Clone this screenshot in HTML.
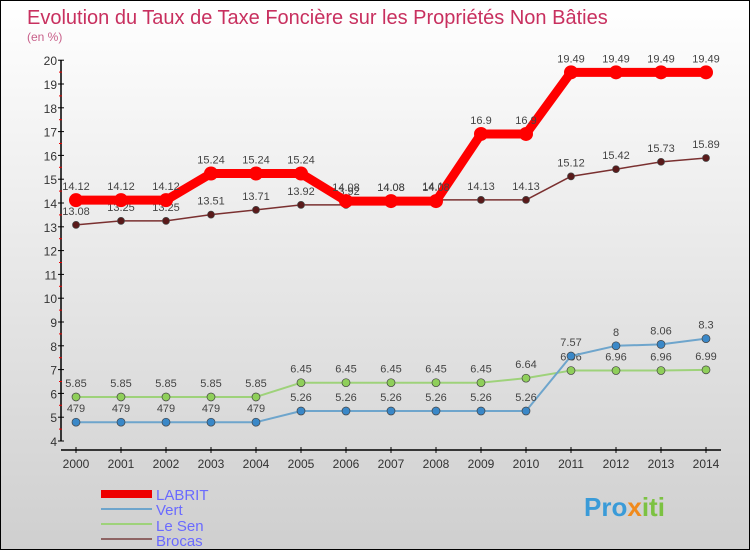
<!DOCTYPE html>
<html><head><meta charset="utf-8"><style>
body{margin:0}
#c{width:748px;height:548px;border:1px solid #000;background:linear-gradient(#ffffff,#cfcfcf);position:relative;font-family:"Liberation Sans",sans-serif;overflow:hidden}
</style></head><body>
<div id="c">
<svg width="748" height="548" id="s">
<text x="26" y="23" font-size="20" fill="#c8305f">Evolution du Taux de Taxe Foncière sur les Propriétés Non Bâties</text>
<text x="26" y="40" font-size="12" fill="#c8608a">(en %)</text>
<g id="g"></g>
<g>
<rect x="100" y="489" width="51" height="8" fill="#e00"/>
<text x="155" y="499" font-size="15" fill="#6a6aff">LABRIT</text>
<rect x="100" y="507" width="51" height="2" fill="#6ea5cc"/>
<text x="155" y="514" font-size="15" fill="#6a6aff">Vert</text>
<rect x="100" y="522" width="51" height="2" fill="#9ed27a"/>
<text x="155" y="530" font-size="15" fill="#6a6aff">Le Sen</text>
<rect x="100" y="537" width="51" height="2" fill="#8e6464"/>
<text x="155" y="545" font-size="15" fill="#6a6aff">Brocas</text>
</g>
<text x="583" y="515" font-size="26" font-weight="bold" fill="#3a9bd8">Pro<tspan fill="#f08a1c">x</tspan><tspan fill="#7cc242">iti</tspan></text>
</svg>
</div>
<script>
const years=[2000,2001,2002,2003,2004,2005,2006,2007,2008,2009,2010,2011,2012,2013,2014];
const labrit=[14.12,14.12,14.12,15.24,15.24,15.24,14.08,14.08,14.08,16.9,16.9,19.49,19.49,19.49,19.49];
const vert=[4.79,4.79,4.79,4.79,4.79,5.26,5.26,5.26,5.26,5.26,5.26,7.57,8,8.06,8.3];
const leSen=[5.85,5.85,5.85,5.85,5.85,6.45,6.45,6.45,6.45,6.45,6.64,6.96,6.96,6.96,6.99];
const brocas=[13.08,13.25,13.25,13.51,13.71,13.92,13.92,14.08,14.13,14.13,14.13,15.12,15.42,15.73,15.89];
const yTicks=[4,5,6,7,8,9,10,11,12,13,14,15,16,17,18,19,20];
const NS="http://www.w3.org/2000/svg";
const g=document.getElementById('g');
const X=i=>75+i*45, Y=v=>440-(v-4)*23.8;
function mk(t,a,p){const e=document.createElementNS(NS,t);for(const k in a)e.setAttribute(k,a[k]);(p||g).appendChild(e);return e;}
let e=mk('line',{x1:60,y1:Y(20),x2:60,y2:Y(4),stroke:'#000','stroke-width':1.5});


e=mk('line',{x1:60,y1:449,x2:720,y2:449,stroke:'#000','stroke-width':1.5});


yTicks.forEach(v=>{
 mk('line',{x1:57,y1:Y(v),x2:63,y2:Y(v),stroke:'#000'});
 if(v<20)mk('line',{x1:58,y1:Y(v+0.5),x2:61,y2:Y(v+0.5),stroke:'#e00'});
 e=mk('text',{x:56,y:Y(v)+5,'font-size':12,fill:'#333','text-anchor':'end'});
 e.textContent=v;
 
 
});
years.forEach((y,i)=>{
 mk('line',{x1:X(i),y1:446,x2:X(i),y2:452,stroke:'#000'});
 e=mk('text',{x:X(i),y:467,'font-size':12,fill:'#333','text-anchor':'middle'});
 e.textContent=y;
 
 
});
function series(vals,color,dot,w,r,name){
 const gg=mk('g',{});
 
 
 mk('polyline',{points:vals.map((v,i)=>X(i)+','+Y(v)).join(' '),fill:'none',stroke:color,'stroke-width':w,'stroke-linejoin':'round'},gg);
 vals.forEach((v,i)=>{
  const c=mk('circle',{cx:X(i),cy:Y(v),r:r,fill:dot,stroke:'#444','stroke-width':r>5?0:0.7},gg);
  
  
  const t=mk('text',{x:X(i),y:Y(v)-10,'font-size':11,fill:'#444','text-anchor':'middle'},gg);
  t.textContent=String(v).replace('4.79','479');
 });
}
series(leSen,'#9ed27a','#8fcf5a',2,4,'le-sen');
series(vert,'#6ea5cc','#3a88c8',2,4,'vert');
series(brocas,'#7a3030','#5a1a1a',1.5,3.5,'brocas');
series(labrit,'#f00','#f00',9,7,'labrit');
</script>
</body></html>
